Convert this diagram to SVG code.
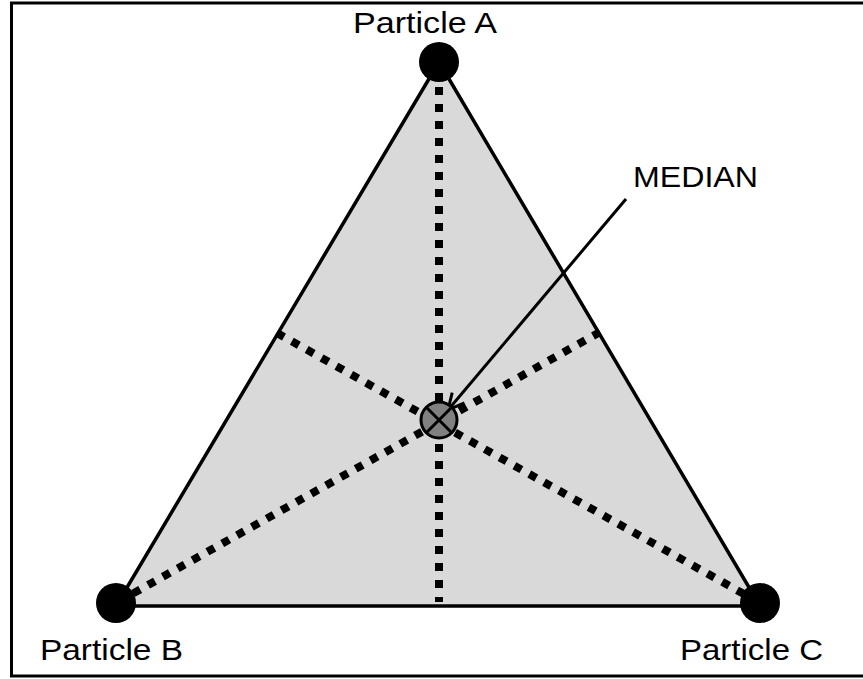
<svg xmlns="http://www.w3.org/2000/svg" width="863" height="679" viewBox="0 0 863 679">
<style>
.lbl{font-family:"Liberation Sans",Arial,sans-serif;font-size:30px;fill:#000}
.dot{stroke:#000;stroke-width:8;stroke-dasharray:8 9;fill:none}
</style>
<defs>
<marker id="arr" viewBox="0 0 20 20" refX="18" refY="10" markerWidth="20" markerHeight="20" markerUnits="userSpaceOnUse" orient="auto">
<path d="M2,2 L18,10 L2,18" fill="none" stroke="#000" stroke-width="3"/>
</marker>
</defs>
<rect x="11.5" y="3" width="853" height="673" fill="#fff" stroke="#000" stroke-width="3"/>
<g id="triangle">
<polygon points="439,62 116,606 760,606" fill="#d9d9d9" stroke="#000" stroke-width="3.5" stroke-linejoin="round"/>
</g>
<g id="connectors">
<line class="dot" x1="439" y1="70" x2="439" y2="602"/>
<line class="dot" x1="277" y1="333" x2="760" y2="603"/>
<line class="dot" x1="600" y1="332" x2="116" y2="603"/>
<line x1="626" y1="199" x2="448" y2="410" stroke="#000" stroke-width="3" marker-end="url(#arr)"/>
</g>
<g id="median-point">
<circle cx="439" cy="420" r="18" fill="#808080" stroke="#000" stroke-width="3"/>
<line x1="427" y1="408" x2="451" y2="432" stroke="#000" stroke-width="3"/>
<line x1="451" y1="408" x2="427" y2="432" stroke="#000" stroke-width="3"/>
</g>
<g id="particle-a">
<circle cx="439" cy="62" r="20" fill="#000"/>
<text class="lbl" x="353" y="33" textLength="144" lengthAdjust="spacingAndGlyphs">Particle A</text>
</g>
<g id="particle-b">
<circle cx="116" cy="603" r="20" fill="#000"/>
<text class="lbl" x="40" y="660" textLength="143" lengthAdjust="spacingAndGlyphs">Particle B</text>
</g>
<g id="particle-c">
<circle cx="760" cy="603" r="20" fill="#000"/>
<text class="lbl" x="680" y="660" textLength="143" lengthAdjust="spacingAndGlyphs">Particle C</text>
</g>
<g id="median-label">
<text class="lbl" x="633" y="187" textLength="125" lengthAdjust="spacingAndGlyphs">MEDIAN</text>
</g>
</svg>
